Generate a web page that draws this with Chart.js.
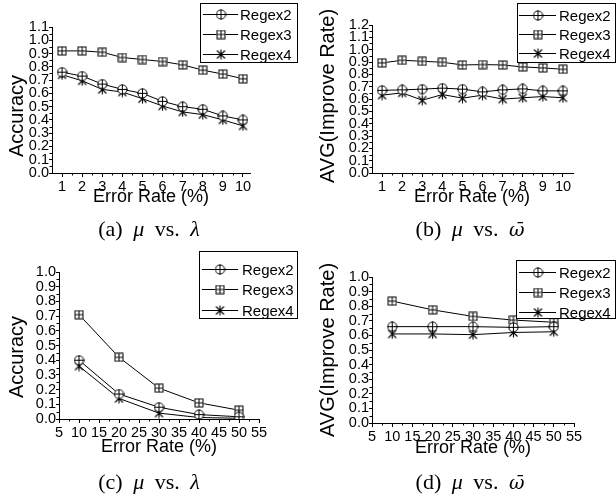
<!DOCTYPE html>
<html>
<head>
<meta charset="utf-8">
<script src="https://cdn.jsdelivr.net/npm/chart.js@4.4.0/dist/chart.umd.min.js"></script>
<style>
  body { margin: 0; background: #fff; }
  #wrap { position: relative; width: 616px; height: 502px; overflow: hidden; background: #fff; }
  canvas { position: absolute; }
  .cap { position: absolute; font-family: "Liberation Serif", "DejaVu Serif", serif; font-size: 22px; line-height: 22px; word-spacing: 5px; transform: translateX(-50%); white-space: nowrap; color: #000; }
  .cap i { font-style: italic; }
  .cap .om { font-family: "DejaVu Serif", serif; font-size: 19px; }
</style>
</head>
<body>
<div id="wrap">
  <canvas id="chartA" width="308" height="250" style="left:0;top:0"></canvas>
  <canvas id="chartB" width="308" height="250" style="left:308px;top:0"></canvas>
  <canvas id="chartC" width="308" height="250" style="left:0;top:250px"></canvas>
  <canvas id="chartD" width="308" height="250" style="left:308px;top:250px"></canvas>
  <div class="cap" style="left:149px;top:218px">(a) <i>μ</i> vs. <i>λ</i></div>
  <div class="cap" style="left:470px;top:218px">(b) <i>μ</i> vs. <i class="om">ω̄</i></div>
  <div class="cap" style="left:149px;top:471px">(c) <i>μ</i> vs. <i>λ</i></div>
  <div class="cap" style="left:470px;top:471px">(d) <i>μ</i> vs. <i class="om">ω̄</i></div>
</div>
<script>
// error rates (x values)
const rateSmall = [1, 2, 3, 4, 5, 6, 7, 8, 9, 10];
const rateLarge = [10, 20, 30, 40, 50];

// (a) accuracy, small error rates
const accSmallRegex2 = [0.76, 0.73, 0.67, 0.63, 0.60, 0.54, 0.50, 0.48, 0.43, 0.40];
const accSmallRegex3 = [0.92, 0.92, 0.91, 0.87, 0.855, 0.84, 0.815, 0.775, 0.745, 0.71];
const accSmallRegex4 = [0.74, 0.695, 0.63, 0.61, 0.56, 0.505, 0.46, 0.44, 0.40, 0.355];

// (b) avg improve rate, small error rates
const avgSmallRegex2 = [0.67, 0.674, 0.68, 0.688, 0.68, 0.658, 0.674, 0.682, 0.666, 0.666];
const avgSmallRegex3 = [0.893, 0.914, 0.906, 0.898, 0.876, 0.879, 0.876, 0.86, 0.852, 0.841];
const avgSmallRegex4 = [0.631, 0.65, 0.59, 0.636, 0.607, 0.631, 0.599, 0.61, 0.62, 0.61];

// (c) accuracy, large error rates
const accLargeRegex2 = [0.40, 0.17, 0.08, 0.03, 0.015];
const accLargeRegex3 = [0.71, 0.42, 0.21, 0.11, 0.06];
const accLargeRegex4 = [0.36, 0.14, 0.04, 0.01, 0.005];

// (d) avg improve rate, large error rates
const avgLargeRegex2 = [0.66, 0.66, 0.66, 0.655, 0.66];
const avgLargeRegex3 = [0.835, 0.775, 0.73, 0.705, 0.69];
const avgLargeRegex4 = [0.61, 0.61, 0.605, 0.62, 0.625];

const seriesNames = ["Regex2", "Regex3", "Regex4"];

// tick labels
const xTicksSmall = [1, 2, 3, 4, 5, 6, 7, 8, 9, 10];
const xTicksLarge = [5, 10, 15, 20, 25, 30, 35, 40, 45, 50, 55];
const yTicks11 = [0, 0.1, 0.2, 0.3, 0.4, 0.5, 0.6, 0.7, 0.8, 0.9, 1.0, 1.1];
const yTicks12 = [0, 0.1, 0.2, 0.3, 0.4, 0.5, 0.6, 0.7, 0.8, 0.9, 1.0, 1.1, 1.2];
const yTicks10 = [0, 0.1, 0.2, 0.3, 0.4, 0.5, 0.6, 0.7, 0.8, 0.9, 1.0];

Chart.defaults.font.family = '"Liberation Sans", Arial, sans-serif';
Chart.defaults.color = "#000";

// marker pictures
function makeMarker(kind) {
  const c = document.createElement("canvas");
  const g = c.getContext("2d");
  if (kind === "circle") {
    c.width = 11; c.height = 11;
    g.strokeStyle = "#000"; g.fillStyle = "#fff"; g.lineWidth = 1;
    g.beginPath(); g.arc(5.5, 5.5, 4.6, 0, Math.PI * 2); g.fill(); g.stroke();
    g.beginPath(); g.moveTo(5.5, 0.5); g.lineTo(5.5, 10.5); g.moveTo(0.5, 5.5); g.lineTo(10.5, 5.5); g.stroke();
  } else if (kind === "square") {
    c.width = 10; c.height = 10;
    g.strokeStyle = "#000"; g.fillStyle = "#fff"; g.lineWidth = 1;
    g.fillRect(0.5, 0.5, 9, 9); g.strokeRect(1, 1, 8, 8);
    g.beginPath(); g.moveTo(5, 1); g.lineTo(5, 9); g.moveTo(1, 5); g.lineTo(9, 5); g.stroke();
  } else {
    c.width = 11; c.height = 11;
    g.strokeStyle = "#000"; g.lineWidth = 1.1;
    g.beginPath();
    g.moveTo(5.5, 0.5); g.lineTo(5.5, 10.5);
    g.moveTo(1.5, 1.5); g.lineTo(9.5, 9.5);
    g.moveTo(9.5, 1.5); g.lineTo(1.5, 9.5);
    g.stroke();
  }
  return c;
}
const markers = [makeMarker("circle"), makeMarker("square"), makeMarker("star")];

// legend: line with marker, drawn in a framed box
const lineLegend = {
  id: "lineLegend",
  afterDraw(chart, args, opts) {
    const ctx = chart.ctx;
    const [bx, by, bw, bh] = opts.box;
    ctx.save();
    ctx.fillStyle = "#fff";
    ctx.fillRect(bx, by, bw, bh);
    ctx.strokeStyle = "#000";
    ctx.lineWidth = 1;
    ctx.strokeRect(bx + 0.5, by + 0.5, bw - 1, bh - 1);
    ctx.font = '15px "Liberation Sans", Arial, sans-serif';
    ctx.textBaseline = "middle";
    ctx.fillStyle = "#000";
    chart.data.datasets.forEach((ds, i) => {
      const y = opts.rows[i] + 0.5;
      ctx.beginPath();
      ctx.moveTo(opts.line[0], y);
      ctx.lineTo(opts.line[1], y);
      ctx.stroke();
      const mx = Math.round((opts.line[0] + opts.line[1]) / 2);
      Chart.helpers.drawPoint(ctx, { pointStyle: markers[i], radius: 5, rotation: 0 }, mx, y);
      ctx.fillText(ds.label, opts.textX, y + 1);
    });
    ctx.restore();
  }
};

// axis titles
const axisText = {
  id: "axisText",
  afterDraw(chart, args, opts) {
    const ctx = chart.ctx;
    ctx.save();
    ctx.fillStyle = "#000";
    ctx.textAlign = "center";
    ctx.textBaseline = "middle";
    ctx.font = '20px "Liberation Sans", Arial, sans-serif';
    ctx.translate(opts.y.x, opts.y.y);
    ctx.rotate(-Math.PI / 2);
    ctx.fillText(opts.y.text, 0, 0);
    ctx.restore();
    ctx.save();
    ctx.fillStyle = "#000";
    ctx.textAlign = "center";
    ctx.textBaseline = "middle";
    ctx.font = '18px "Liberation Sans", Arial, sans-serif';
    ctx.fillText(opts.x.text, opts.x.x, opts.x.y);
    ctx.restore();
  }
};

// small ticks halfway between labelled ticks
const minorTicks = {
  id: "minorTicks",
  afterDraw(chart) {
    const ctx = chart.ctx;
    const area = chart.chartArea;
    ctx.save();
    ctx.strokeStyle = "#000";
    ctx.lineWidth = 1;
    ctx.beginPath();
    const xs = chart.scales.x, ys = chart.scales.y;
    for (let i = 0; i < xs.ticks.length - 1; i++) {
      const px = Math.round(xs.getPixelForValue((xs.ticks[i].value + xs.ticks[i + 1].value) / 2)) + 0.5;
      ctx.moveTo(px, area.bottom); ctx.lineTo(px, area.bottom + 2.5);
    }
    for (let i = 0; i < ys.ticks.length - 1; i++) {
      const py = Math.round(ys.getPixelForValue((ys.ticks[i].value + ys.ticks[i + 1].value) / 2)) + 0.5;
      ctx.moveTo(area.left, py); ctx.lineTo(area.left - 2.5, py);
    }
    ctx.stroke();
    ctx.restore();
  }
};

function buildChart(id, xs, series, p) {
  const datasets = series.map((vals, i) => ({
    label: seriesNames[i],
    data: xs.map((x, j) => ({ x: x, y: vals[j] })),
    borderColor: "#000",
    borderWidth: 1,
    pointStyle: markers[i],
    pointRadius: 5,
    tension: 0
  }));
  return new Chart(document.getElementById(id), {
    type: "line",
    data: { datasets },
    plugins: [minorTicks, lineLegend, axisText],
    options: {
      responsive: false,
      animation: false,
      layout: { padding: { left: 0, top: p.top, right: 308 - p.right, bottom: 250 - p.bottom - 30 } },
      plugins: {
        legend: { display: false },
        tooltip: { enabled: false },
        lineLegend: p.legend,
        axisText: p.titles
      },
      scales: {
        x: {
          type: "linear",
          min: p.xMin, max: p.xMax,
          afterBuildTicks: s => { s.ticks = p.xTicks.map(v => ({ value: v })); },
          afterFit: s => { s.height = 30; },
          ticks: { autoSkip: false, maxRotation: 0, padding: 1, font: { size: 14.5 }, color: "#000" },
          grid: { drawOnChartArea: false, tickLength: 4, color: "#000" },
          border: { color: "#000", width: 1 }
        },
        y: {
          min: 0, max: p.yMax,
          afterBuildTicks: s => { s.ticks = p.yTicks.map(v => ({ value: v })); },
          afterFit: s => { s.width = p.left; },
          ticks: { autoSkip: false, padding: 0, font: { size: 14.5 }, color: "#000", callback: v => v.toFixed(1) },
          grid: { drawOnChartArea: false, tickLength: 3, color: "#000" },
          border: { color: "#000", width: 1 }
        }
      }
    }
  });
}

buildChart("chartA", rateSmall, [accSmallRegex2, accSmallRegex3, accSmallRegex4], {
  left: 52, right: 250, top: 27, bottom: 173,
  xMin: 0.5, xMax: 10.35, yMax: 1.1, xTicks: xTicksSmall, yTicks: yTicks11,
  legend: { box: [200, 3, 98, 60], rows: [14, 34, 54], line: [203, 238], textX: 240 },
  titles: { y: { text: "Accuracy", x: 17, y: 116 }, x: { text: "Error Rate (%)", x: 151, y: 197 } }
});

buildChart("chartB", rateSmall, [avgSmallRegex2, avgSmallRegex3, avgSmallRegex4], {
  left: 64, right: 265, top: 25, bottom: 173,
  xMin: 0.5, xMax: 10.5, yMax: 1.2, xTicks: xTicksSmall, yTicks: yTicks12,
  legend: { box: [209, 3, 99, 60], rows: [15, 34, 53], line: [211, 248], textX: 251 },
  titles: { y: { text: "AVG(Improve Rate)", x: 20, y: 96 }, x: { text: "Error Rate (%)", x: 164, y: 197 } }
});

buildChart("chartC", rateLarge, [accLargeRegex2, accLargeRegex3, accLargeRegex4], {
  left: 59, right: 259, top: 22, bottom: 169,
  xMin: 5, xMax: 55, yMax: 1.0, xTicks: xTicksLarge, yTicks: yTicks10,
  legend: { box: [199, 1, 99, 68], rows: [19, 39, 60], line: [202, 238], textX: 242 },
  titles: { y: { text: "Accuracy", x: 17, y: 107 }, x: { text: "Error Rate (%)", x: 159, y: 197 } }
});

buildChart("chartD", rateLarge, [avgLargeRegex2, avgLargeRegex3, avgLargeRegex4], {
  left: 64, right: 266, top: 27, bottom: 173,
  xMin: 5, xMax: 55, yMax: 1.0, xTicks: xTicksLarge, yTicks: yTicks10,
  legend: { box: [208, 10, 100, 59], rows: [22, 42, 62], line: [211, 248], textX: 251 },
  titles: { y: { text: "AVG(Improve Rate)", x: 20, y: 100 }, x: { text: "Error Rate (%)", x: 165, y: 198 } }
});
</script>
</body>
</html>
